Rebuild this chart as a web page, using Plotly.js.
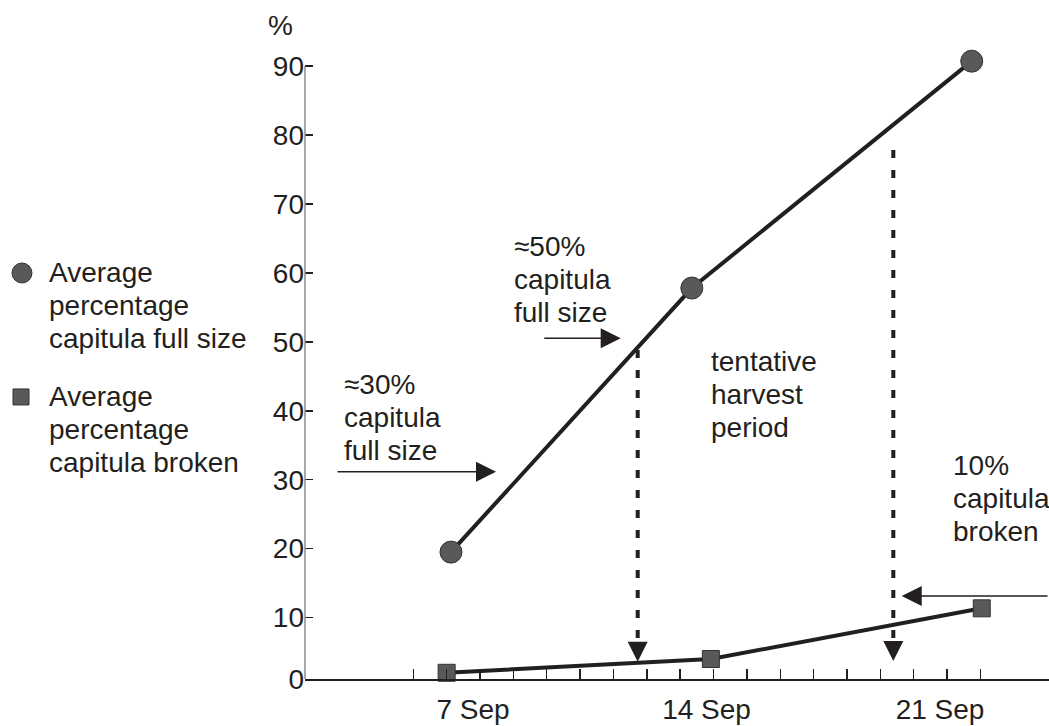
<!DOCTYPE html>
<html>
<head>
<meta charset="utf-8">
<script src="https://cdn.plot.ly/plotly-3.0.1.min.js"></script>
<style>
  html, body { margin: 0; padding: 0; background: #ffffff; }
  #chart { width: 1049px; height: 726px; }
</style>
</head>
<body>
<div id="chart"></div>
<script>
// ---- data (days of September, percentages) ----
const tickDays = [5, 6, 7, 8, 9, 10, 11, 12, 13, 14, 15, 16, 17, 18, 19, 20, 21, 22];
const labelDays = [7, 14, 21];
const labelText = ['7 Sep', '14 Sep', '21 Sep'];

const fullSizeDay = [6.13, 13.35, 21.74];
const fullSizePct = [19.5, 57.8, 90.7];

const brokenDay = [6.0, 13.92, 22.04];
const brokenPct = [2.0, 4.0, 11.35];

const yAxisFloor = 1.1;            // where the drawn x axis sits
const yAxisTop = 90;
const yTickVals = [yAxisFloor, 10, 20, 30, 40, 50, 60, 70, 80, 90];
const yTickText = ['0', '10', '20', '30', '40', '50', '60', '70', '80', '90'];

// ---- styles ----
const INK = '#231f20';
const MARK = '#58595b';
const FONT = 'Liberation Sans, Arial, Helvetica, sans-serif';
const FS = 28;
const LINE_GAP = 33;

const traces = [
  {
    x: fullSizeDay, y: fullSizePct, type: 'scatter', mode: 'lines+markers',
    name: 'Average percentage capitula full size',
    line: { color: INK, width: 4 },
    marker: { symbol: 'circle', size: 22, color: MARK, line: { color: '#333333', width: 1 } },
    cliponaxis: false, hoverinfo: 'x+y'
  },
  {
    x: brokenDay, y: brokenPct, type: 'scatter', mode: 'lines+markers',
    name: 'Average percentage capitula broken',
    line: { color: INK, width: 4 },
    marker: { symbol: 'square', size: 17, color: MARK, line: { color: '#333333', width: 1 } },
    cliponaxis: false, hoverinfo: 'x+y'
  }
];

const font = { family: FONT, size: FS, color: INK };

function textBlock(lines, x, y, ref) {
  return lines.map((t, i) => ({
    x: x, y: y, xref: ref ? ref[0] : 'x', yref: ref ? ref[1] : 'y',
    text: t, showarrow: false, xanchor: 'left', yanchor: 'middle',
    yshift: -i * LINE_GAP, font: font, borderpad: 0
  }));
}

function solidArrow(x, y, ax) {
  return { x: x, y: y, xref: 'x', yref: 'y', ax: ax, ay: 0, text: '',
    showarrow: true, arrowhead: 2, arrowwidth: 1.5, arrowsize: 2.67,
    arrowcolor: INK, standoff: 0 };
}
function headOnly(x, y) {
  return { x: x, y: y, xref: 'x', yref: 'y', ax: 0, ay: -20, text: '',
    showarrow: true, arrowhead: 2, arrowwidth: 4, arrowsize: 1,
    arrowcolor: INK, standoff: 0 };
}

const annotations = [].concat(
  [{ x: -0.0323, y: 1.0, yshift: 13, xref: 'paper', yref: 'paper', text: '%', showarrow: false,
     xanchor: 'center', yanchor: 'middle', font: font }],
  textBlock(['≈30%', 'capitula', 'full size'], 2.884, 43.74),
  textBlock(['≈50%', 'capitula', 'full size'], 7.98, 63.79),
  textBlock(['tentative', 'harvest', 'period'], 13.895, 47.11),
  textBlock(['10%', 'capitula', 'broken'], 21.14, 32.13),
  textBlock(['Average', 'percentage', 'capitula full size'], -0.3454, 0.6334, ['paper', 'paper']),
  textBlock(['Average', 'percentage', 'capitula broken'], -0.3454, 0.4400, ['paper', 'paper']),
  [
    solidArrow(7.48, 31.16, -160),
    solidArrow(11.218, 50.51, -78),
    solidArrow(19.641, 13.14, 148),
    headOnly(11.727, 3.61),
    headOnly(19.389, 3.71)
  ]
);

const shapes = [
  // y axis line, only from the x axis up to the top tick
  { type: 'line', xref: 'paper', yref: 'y', x0: 0, x1: 0, y0: yAxisFloor, y1: yAxisTop,
    line: { color: '#8a8a8a', width: 1.5 } },
  { type: 'line', xref: 'x', yref: 'y', x0: 11.727, x1: 11.727, y0: 48.8, y1: 6.3,
    line: { color: INK, width: 4, dash: '8px,12px' } },
  { type: 'line', xref: 'x', yref: 'y', x0: 19.389, x1: 19.389, y0: 77.8, y1: 6.4,
    line: { color: INK, width: 4, dash: '8px,12px' } },
  // legend symbols
  { type: 'circle', xref: 'paper', yref: 'paper', xsizemode: 'pixel', ysizemode: 'pixel',
    xanchor: -0.3804, yanchor: 0.6334, x0: -10, x1: 10, y0: -10, y1: 10,
    fillcolor: MARK, line: { color: '#333333', width: 1 } },
  { type: 'rect', xref: 'paper', yref: 'paper', xsizemode: 'pixel', ysizemode: 'pixel',
    xanchor: -0.3817, yanchor: 0.4400, x0: -8, x1: 8, y0: -8, y1: 8,
    fillcolor: MARK, line: { color: '#333333', width: 1 } }
];

const layout = {
  width: 1049, height: 726,
  margin: { l: 305, r: 0, t: 38, b: 47, pad: 0 },
  paper_bgcolor: '#ffffff', plot_bgcolor: '#ffffff',
  showlegend: false,
  font: font,
  xaxis: {
    range: [1.754, 24.056], type: 'linear',
    tickmode: 'array', tickvals: labelDays, ticktext: labelText,
    ticks: 'inside', ticklen: 10, tickwidth: 1.5, tickcolor: INK,
    ticklabelshift: -7, ticklabelstandoff: 5,
    minor: { tickmode: 'array', tickvals: tickDays, ticks: 'inside', ticklen: 10, tickwidth: 1.5, tickcolor: INK, showgrid: false },
    showline: true, linecolor: INK, linewidth: 1.5,
    showgrid: false, zeroline: false, tickfont: font, fixedrange: true
  },
  yaxis: {
    range: [yAxisFloor, 94.06], type: 'linear',
    tickmode: 'array', tickvals: yTickVals, ticktext: yTickText,
    ticks: 'inside', ticklen: 8, tickwidth: 1.5, tickcolor: INK,
    ticklabelstandoff: 0,
    showline: false,
    showgrid: false, zeroline: false, tickfont: font, fixedrange: true
  },
  annotations: annotations,
  shapes: shapes
};

Plotly.newPlot('chart', traces, layout, { displayModeBar: false, staticPlot: true });
</script>
</body>
</html>
